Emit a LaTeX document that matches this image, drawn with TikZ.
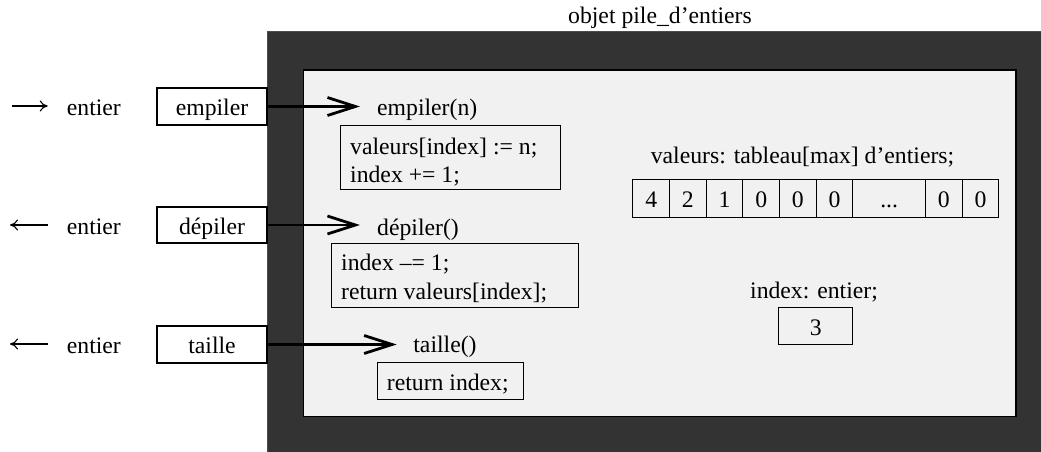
\documentclass[tikz,border=0pt]{standalone}
\usepackage{fontspec}
\setmainfont{Liberation Serif}
\usetikzlibrary{arrows.meta}
\definecolor{darkbg}{HTML}{333333}
\definecolor{lightbg}{HTML}{F1F1F1}
\tikzset{
  txt/.style={inner sep=0pt, font=\fontsize{23.7}{28}\selectfont},
  boxed/.style={draw=black, line width=1.1pt, inner sep=0pt, font=\fontsize{23.7}{28}\selectfont,
     text height=18pt, text depth=0pt},
  bigarrow/.style={line width=2.8pt, -{Straight Barb[length=28pt, width=18pt, line width=2.8pt]}},
  thinarrow/.style={line width=1.1pt, -{To[length=8pt, width=11pt]}},
}
\begin{document}
\begin{tikzpicture}[x=1pt, y=-1pt]
\useasboundingbox (0,0) rectangle (1041,452);
\clip (0,0) rectangle (1041,452);

% title
\node[txt, anchor=base] (title) at (660,24) {objet pile\_d’entiers};

% outer dark object
\draw[fill=darkbg, draw=gray!60!black, line width=1pt] (267,32) rectangle (1060,470);
% inner light area
\draw[fill=lightbg, draw=black, line width=1.2pt] (303.5,70) rectangle (1016,416.5);

% left interface boxes
\node[boxed, fill=white, minimum width=110pt, minimum height=37pt] (bemp) at (212,106.5) {empiler};
\node[boxed, fill=white, minimum width=110pt, minimum height=36pt] (bdep) at (212,225) {dépiler};
\node[boxed, fill=white, minimum width=110pt, minimum height=37pt] (btai) at (212,344.5) {taille};

% left "entier" labels with arrows
\node[txt, anchor=base west, inner xsep=19pt] (e1) at (47.7,115) {entier};
\node[txt, anchor=base west, inner xsep=19pt] (e2) at (47.7,234) {entier};
\node[txt, anchor=base west, inner xsep=19pt] (e3) at (47.7,353) {entier};
\coordinate (a1) at (11.5,106);
\coordinate (a2) at (10,225);
\coordinate (a3) at (10,344);
\draw[thinarrow] (a1) -- (e1.west |- a1);
\draw[thinarrow] (e2.west |- a2) -- (a2);
\draw[thinarrow] (e3.west |- a3) -- (a3);

% method headers
\node[txt, anchor=base west, inner xsep=17pt] (memp) at (360,115) {empiler(n)};
\node[txt, anchor=base west, inner xsep=17pt] (mdep) at (360,235) {dépiler()};
\node[txt, anchor=base west, inner xsep=16.5pt] (mtai) at (396.7,352) {taille()};

\draw[bigarrow] (bemp.east) -- (memp.west |- bemp.east);
\draw[bigarrow] (bdep.east) -- (mdep.west |- bdep.east);
\draw[bigarrow] (btai.east) -- (mtai.west |- btai.east);

% code boxes
\node[draw=black, line width=1.1pt, anchor=north west, minimum width=220.5pt, minimum height=64pt, inner sep=0pt] (cemp) at (339.5,125) {};
\node[txt, anchor=base west] (cemp1) at (350,154) {valeurs[index] := n;};
\node[txt, anchor=base west] (cemp2) at (350,182) {index += 1;};

\node[draw=black, line width=1.1pt, anchor=north west, minimum width=247.6pt, minimum height=64pt, inner sep=0pt] (cdep) at (330.7,243.3) {};
\node[txt, anchor=base west] (cdep1) at (341,270.5) {index –= 1;};
\node[txt, anchor=base west] (cdep2) at (341,299) {return valeurs[index];};

\node[draw=black, line width=1.1pt, anchor=north west, minimum width=146.6pt, minimum height=36.7pt, inner sep=0pt] (ctai) at (376.7,362.3) {};
\node[txt, anchor=base west] (ctai1) at (386.7,390.5) {return index;};

% array
\node[txt, anchor=base] (vlab) at (802.5,163) {valeurs: tableau[max] d’entiers;};
\foreach \i/\xl/\w/\v in {1/632.3/36.7/4, 2/669/36.7/2, 3/705.7/36.6/1, 4/742.3/36.7/0, 5/779/36.7/0, 6/815.7/36.6/0, 8/925/36.7/0, 9/961.7/36.6/0}{
  \node[boxed, anchor=north west, minimum width=\w pt, minimum height=37.4pt] (c\i) at (\xl,179.3) {\v};
}
\node[boxed, anchor=north west, minimum width=72.7pt, minimum height=37.4pt] (c7) at (852.3,179.3) {.\kern0pt.\kern0pt.};

% index
\node[txt, anchor=base] (ilab) at (814,298.3) {index: entier;};
\node[boxed, anchor=north west, minimum width=74pt, minimum height=37pt] (ibox) at (778.3,307.3) {3};

\end{tikzpicture}
\end{document}
